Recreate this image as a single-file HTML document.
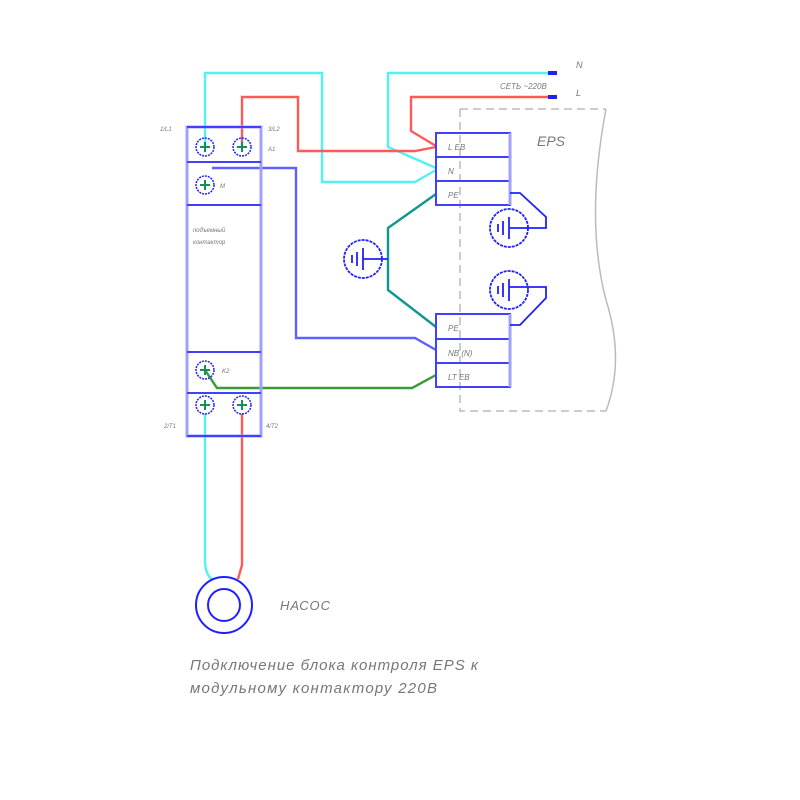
<!DOCTYPE html>
<html><head><meta charset="utf-8"><style>
html,body{margin:0;padding:0;background:#fff;}
svg{display:block}
text{font-family:"Liberation Sans",sans-serif;font-style:italic;fill:#777;}
</style></head><body>
<svg width="800" height="800" viewBox="0 0 800 800" xmlns="http://www.w3.org/2000/svg">
<!-- EPS dashed border -->
<g fill="none" stroke="#bbb" stroke-width="1.5">
<path d="M460 109 H606 M460 109 V411 H606" stroke-dasharray="8,5"/>
<path d="M606 109 Q585 220 606 300 Q625 360 606 411"/>
</g>
<text x="537" y="146" font-size="14">EPS</text>
<!-- wires -->
<g fill="none" stroke-width="2.4" stroke-linejoin="miter">
<path d="M205 147 V73 H322 V182 H415 L436 170" stroke="#55f0f0"/>
<path d="M553 73 H388 V147 L436 168" stroke="#55f0f0"/>
<path d="M242 147 V97 H298 V151 H415 L436 147" stroke="#ff5a5a"/>
<path d="M553 97 H411 V131 L436 146" stroke="#ff5a5a"/>
<path d="M436 194 L388 228 V290 L436 327" stroke="#109890"/>
<path d="M212 168 H296 V338 H415 L436 350" stroke="#6060ff"/>
<path d="M205 370 L217 388 H412 L436 375" stroke="#3a9a3a"/>
<path d="M205 414 V560 Q205 575 213 580" stroke="#55f0f0"/>
<path d="M242 414 V565 L238 579" stroke="#ff5a5a"/>
</g>
<!-- endpoint dots -->
<g fill="#2020ff"><rect x="548" y="71" width="9" height="4"/><rect x="548" y="95" width="9" height="4"/></g>
<text x="500" y="89" font-size="8">СЕТЬ ~220В</text>
<text x="576" y="68" font-size="9">N</text>
<text x="576" y="96" font-size="9">L</text>
<!-- contactor -->
<g fill="none" stroke="#4040ff" stroke-width="2">
<rect x="187" y="127" width="74" height="309" stroke="#a0a0ff" stroke-width="3"/>
<path d="M187 127 H261 M187 162 H261 M187 205 H261 M187 352 H261 M187 393 H261 M187 436 H261"/>
</g>
<g stroke="#2020ff" stroke-width="1.5" fill="none" stroke-dasharray="2,1">
<circle cx="205" cy="147" r="9"/><circle cx="242" cy="147" r="9"/><circle cx="205" cy="185" r="9"/>
<circle cx="205" cy="370" r="9"/><circle cx="205" cy="405" r="9"/><circle cx="242" cy="405" r="9"/>
</g>
<g stroke="#109060" stroke-width="2">
<path d="M200 147h10M205 142v10M237 147h10M242 142v10M200 185h10M205 180v10M200 370h10M205 365v10M200 405h10M205 400v10M237 405h10M242 400v10"/>
</g>
<g font-size="6">
<text x="160" y="131">1/L1</text><text x="268" y="131">3/L2</text><text x="268" y="151">A1</text>
<text x="220" y="188">M</text><text x="222" y="373">K2</text>
<text x="164" y="428">2/T1</text><text x="266" y="428">4/T2</text>
<text x="193" y="232">подъемный</text><text x="193" y="244">контактор</text>
</g>
<!-- EPS terminal blocks -->
<g fill="none" stroke="#4040ff" stroke-width="2">
<rect x="436" y="133" width="74" height="72"/><path d="M436 157H510M436 181H510"/>
<rect x="436" y="314" width="74" height="73"/><path d="M436 339H510M436 363H510"/>
<path d="M510 133V205M510 314V387" stroke="#a0a0ff" stroke-width="3"/>
</g>
<g font-size="8">
<text x="448" y="150">L EB</text><text x="448" y="174">N</text><text x="448" y="198">PE</text>
<text x="448" y="331">PE</text><text x="448" y="356">NB (N)</text><text x="448" y="380">LT EB</text>
</g>
<!-- grounds -->
<g fill="none" stroke="#2020ff" stroke-width="1.8">
<circle cx="363" cy="259" r="19" stroke-dasharray="3,1"/>
<path d="M363 259H388M363 248V270M357 252V266M352 255V263"/>
<circle cx="509" cy="228" r="19" stroke-dasharray="3,1"/>
<path d="M509 228H546V217L520 193H510M509 217V239M503 221V235M498 224V232"/>
<circle cx="509" cy="290" r="19" stroke-dasharray="3,1"/>
<path d="M509 287H546V298L520 325H510M509 279V301M503 283V297M498 286V294"/>
</g>
<!-- pump -->
<g fill="none" stroke="#2020ff" stroke-width="2">
<circle cx="224" cy="605" r="28"/><circle cx="224" cy="605" r="16"/>
</g>
<text x="280" y="610" font-size="13" textLength="50">НАСОС</text>
<text x="190" y="670" font-size="15" textLength="288">Подключение блока контроля EPS к</text>
<text x="190" y="693" font-size="15" textLength="247">модульному контактору 220В</text>
</svg>
</body></html>
